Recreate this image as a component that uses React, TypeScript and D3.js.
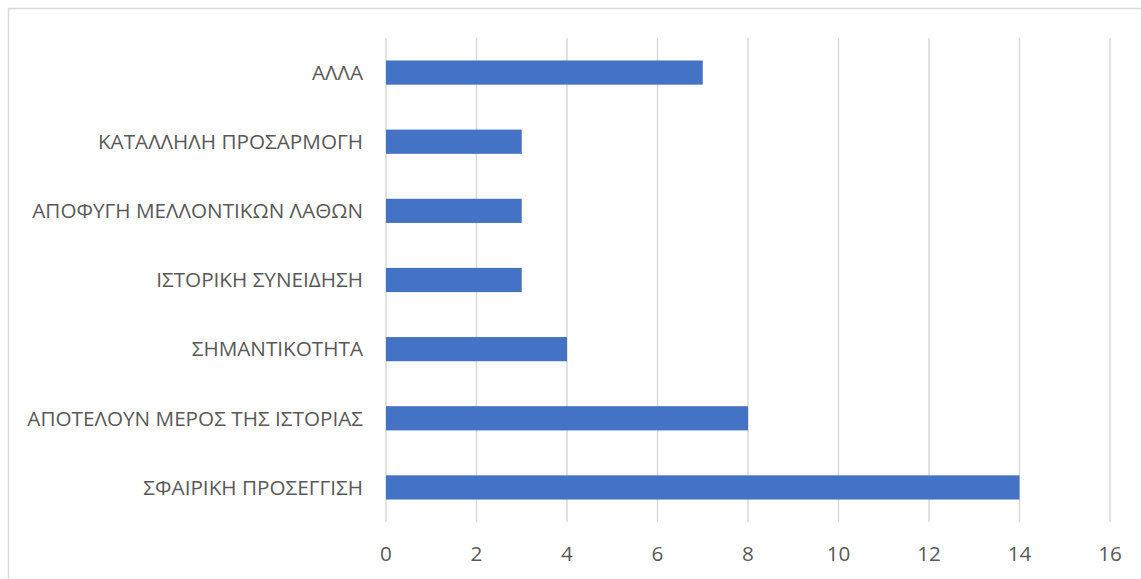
import React from "react";
import * as d3 from "d3";

const categories = [
  "ΣΦΑΙΡΙΚΗ ΠΡΟΣΕΓΓΙΣΗ",
  "ΑΠΟΤΕΛΟΥΝ ΜΕΡΟΣ ΤΗΣ ΙΣΤΟΡΙΑΣ",
  "ΣΗΜΑΝΤΙΚΟΤΗΤΑ",
  "ΙΣΤΟΡΙΚΗ ΣΥΝΕΙΔΗΣΗ",
  "ΑΠΟΦΥΓΗ ΜΕΛΛΟΝΤΙΚΩΝ ΛΑΘΩΝ",
  "ΚΑΤΑΛΛΗΛΗ ΠΡΟΣΑΡΜΟΓΗ",
  "ΑΛΛΑ",
];
const values = [14, 8, 4, 3, 3, 3, 7];
const xTicks = [0, 2, 4, 6, 8, 10, 12, 14, 16];

export default function App() {
  const W = 1141, H = 579;
  const left = 386, right = 1110, top = 38, bottom = 522;
  const x = d3.scaleLinear().domain([0, 16]).range([left, right]);
  const y = d3
    .scaleBand<string>()
    .domain([...categories].reverse())
    .range([top, bottom])
    .paddingInner(0.65)
    .paddingOuter(0.325);
  const font = "'Open Sans', 'Noto Sans', sans-serif";
  return (
    <svg
      width={W}
      height={H}
      style={{ position: "absolute", left: 0, top: 0, background: "#fff" }}
    >
      <rect x={8.5} y={8.5} width={W + 10} height={H + 10} fill="#fff" stroke="#d9d9d9" strokeWidth={1.5} />
      {xTicks.map((t) => (
        <line key={t} x1={x(t)} x2={x(t)} y1={top} y2={bottom} stroke="#d9d9d9" strokeWidth={1.5} />
      ))}
      {categories.map((c, i) => (
        <rect
          key={c}
          x={x(0)}
          y={y(c)}
          width={x(values[i]) - x(0)}
          height={y.bandwidth()}
          fill="#4472C4"
        />
      ))}
      {categories.map((c) => (
        <text
          key={c}
          x={363}
          y={(y(c) as number) + y.bandwidth() / 2}
          dy="0.35em"
          textAnchor="end"
          fontFamily={font}
          fontSize={20.7}
          fill="#595959"
        >
          {c}
        </text>
      ))}
      {xTicks.map((t) => (
        <text
          key={t}
          x={x(t)}
          y={554}
          dy="0.35em"
          textAnchor="middle"
          fontFamily={font}
          fontSize={20.7}
          fill="#595959"
        >
          {t}
        </text>
      ))}
    </svg>
  );
}
